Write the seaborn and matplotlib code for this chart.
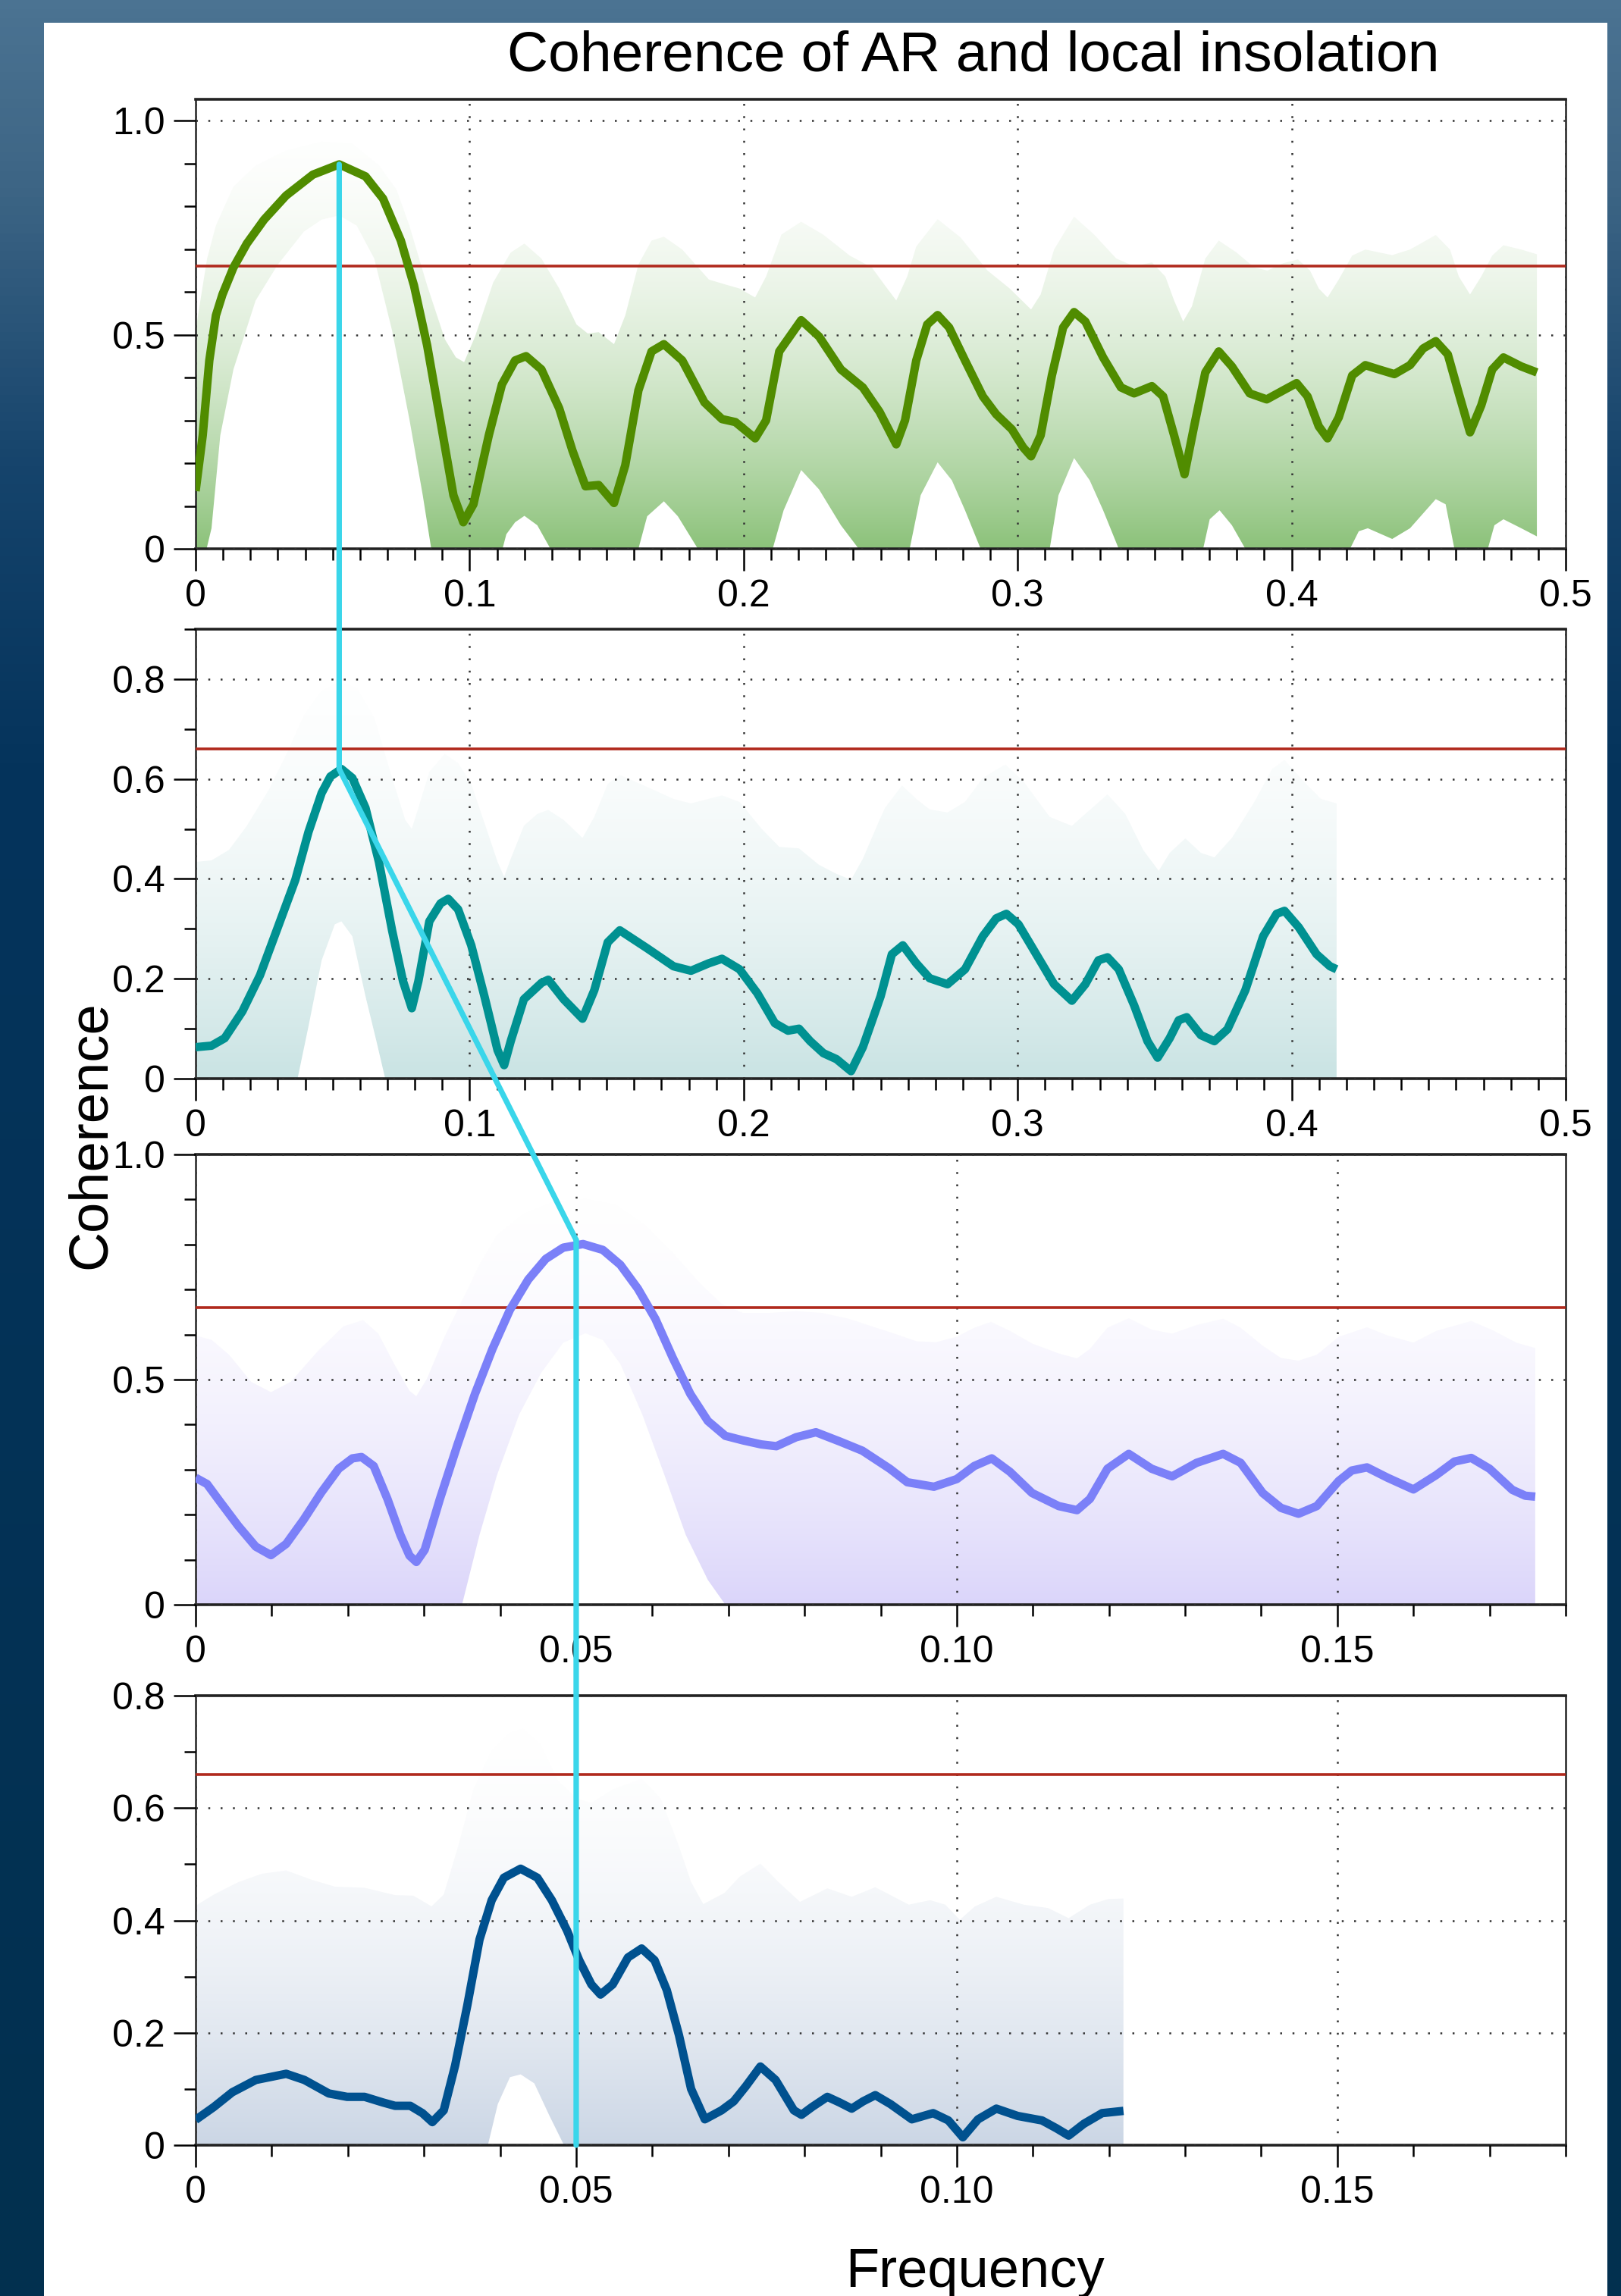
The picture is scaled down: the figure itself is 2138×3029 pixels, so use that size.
import numpy as np
import matplotlib
matplotlib.use("Agg")
import matplotlib.pyplot as plt
import matplotlib.colors as mcolors
import seaborn as sns
from matplotlib.patches import Polygon, Rectangle, ConnectionPatch
from matplotlib.ticker import MultipleLocator

# ---------------- data ----------------
# panel 1
p1_freq = [0.0, 0.0026, 0.005, 0.0074, 0.0098, 0.0138, 0.0187, 0.025, 0.033, 0.0428, 0.0524, 0.062, 0.0684,
           0.0749, 0.0797, 0.0845, 0.0893, 0.0941, 0.0977, 0.1014, 0.107, 0.1118, 0.1166, 0.1206, 0.1262, 0.1327,
           0.1375, 0.1423, 0.1471, 0.1527, 0.1568, 0.1616, 0.1664, 0.1709, 0.1776, 0.1857, 0.1921, 0.197, 0.2042,
           0.2082, 0.213, 0.221, 0.2275, 0.2355, 0.2435, 0.2496, 0.2557, 0.2589, 0.263, 0.267, 0.2708, 0.275,
           0.2808, 0.2873, 0.2922, 0.2979, 0.302, 0.3049, 0.3084, 0.3125, 0.3166, 0.3206, 0.3247, 0.3312, 0.3377,
           0.3425, 0.349, 0.3531, 0.3571, 0.3609, 0.3644, 0.3685, 0.3734, 0.3782, 0.3847, 0.3909, 0.3969, 0.4018,
           0.4058, 0.4099, 0.4131, 0.4172, 0.4221, 0.4269, 0.4318, 0.4375, 0.4432, 0.448, 0.4526, 0.457, 0.461,
           0.4651, 0.4692, 0.4732, 0.4773, 0.4838, 0.4895]
p1_coh = [0.135, 0.265, 0.44, 0.545, 0.594, 0.657, 0.713, 0.769, 0.825, 0.874, 0.898, 0.870, 0.818,
          0.72, 0.615, 0.475, 0.30, 0.125, 0.062, 0.104, 0.265, 0.384, 0.44, 0.45, 0.419, 0.328,
          0.23, 0.146, 0.149, 0.107, 0.195, 0.37, 0.461, 0.478, 0.44, 0.342, 0.303, 0.296, 0.258,
          0.30, 0.461, 0.534, 0.496, 0.419, 0.377, 0.32, 0.244, 0.30, 0.44, 0.524, 0.546, 0.517,
          0.44, 0.356, 0.314, 0.279, 0.237, 0.216, 0.265, 0.405, 0.517, 0.553, 0.531, 0.447, 0.377,
          0.363, 0.38, 0.356, 0.265, 0.174, 0.286, 0.412, 0.461, 0.426, 0.363, 0.349, 0.37, 0.387,
          0.356, 0.286, 0.258, 0.307, 0.405, 0.429, 0.419, 0.408, 0.429, 0.468, 0.485, 0.454, 0.363,
          0.272, 0.335, 0.419, 0.447, 0.426, 0.412]
p1_up_f = [0.0, 0.0042, 0.0074, 0.0138, 0.0219, 0.033, 0.046, 0.057, 0.067, 0.0733, 0.078, 0.0845, 0.091, 0.095,
           0.098, 0.102, 0.1086, 0.115, 0.12, 0.1262, 0.1327, 0.139, 0.1431, 0.1471, 0.1527, 0.1568, 0.1616,
           0.1664, 0.1709, 0.1776, 0.1873, 0.193, 0.1985, 0.2042, 0.2082, 0.2138, 0.221, 0.229, 0.2387, 0.2468,
           0.2516, 0.2557, 0.2597, 0.263, 0.2708, 0.2792, 0.289, 0.2971, 0.3049, 0.3084, 0.3133, 0.3206, 0.3279,
           0.336, 0.3425, 0.349, 0.3539, 0.3571, 0.3604, 0.3636, 0.3685, 0.3734, 0.3799, 0.3864, 0.3912, 0.3969,
           0.4023, 0.4067, 0.4099, 0.4131, 0.4172, 0.4221, 0.4269, 0.4367, 0.4432, 0.4526, 0.4578, 0.461, 0.4651,
           0.4692, 0.4732, 0.4773, 0.4838, 0.4895]
p1_up = [0.51, 0.678, 0.755, 0.846, 0.895, 0.93, 0.951, 0.947, 0.895, 0.839, 0.755, 0.615, 0.489, 0.447,
         0.436, 0.496, 0.622, 0.692, 0.713, 0.678, 0.608, 0.524, 0.503, 0.506, 0.478, 0.545, 0.664,
         0.72, 0.729, 0.699, 0.629, 0.618, 0.608, 0.587, 0.636, 0.734, 0.764, 0.734, 0.685, 0.657,
         0.615, 0.58, 0.636, 0.706, 0.77, 0.727, 0.65, 0.608, 0.559, 0.594, 0.699, 0.776, 0.734,
         0.678, 0.66, 0.669, 0.636, 0.58, 0.531, 0.566, 0.678, 0.72, 0.692, 0.657, 0.65, 0.667,
         0.676, 0.65, 0.608, 0.587, 0.629, 0.685, 0.699, 0.686, 0.699, 0.733, 0.699, 0.636, 0.594,
         0.636, 0.685, 0.709, 0.699, 0.688]
p1_lo_f = [0.0, 0.004, 0.0058, 0.009, 0.0138, 0.0219, 0.03, 0.0395, 0.046, 0.0524, 0.0588, 0.0652, 0.0717, 0.0781,
           0.0829, 0.086, 0.112, 0.1134, 0.1166, 0.12, 0.1247, 0.1295, 0.1616, 0.1648, 0.1709, 0.176, 0.1833,
           0.2106, 0.2146, 0.221, 0.2275, 0.2355, 0.242, 0.2606, 0.2646, 0.2708, 0.276, 0.2808, 0.2865, 0.3117,
           0.3149, 0.3206, 0.3263, 0.3312, 0.3369, 0.3677, 0.3701, 0.3737, 0.3782, 0.3831, 0.4213, 0.4245, 0.4278,
           0.4367, 0.4432, 0.4526, 0.4562, 0.4594, 0.4716, 0.474, 0.4773, 0.4838, 0.4895]
p1_lo = [0, 0, 0.048, 0.265, 0.419, 0.58, 0.664, 0.741, 0.769, 0.779, 0.755, 0.678, 0.51, 0.30,
         0.125, 0, 0, 0.034, 0.062, 0.077, 0.055, 0, 0, 0.076, 0.111, 0.076, 0,
         0, 0.09, 0.184, 0.139, 0.055, 0, 0, 0.125, 0.202, 0.16, 0.09, 0, 0,
         0.125, 0.212, 0.16, 0.09, 0, 0, 0.069, 0.09, 0.055, 0, 0, 0.041, 0.048,
         0.023, 0.048, 0.116, 0.104, 0, 0, 0.055, 0.069, 0.048, 0.029]

# panel 2
p2_freq = [0.0, 0.0058, 0.0106, 0.0171, 0.0235, 0.03, 0.0364, 0.0412, 0.046, 0.0492, 0.0532, 0.0572, 0.062,
           0.0669, 0.0717, 0.0757, 0.0789, 0.0813, 0.0853, 0.0894, 0.0922, 0.0958, 0.1006, 0.1054, 0.1102,
           0.1126, 0.115, 0.1198, 0.1263, 0.1287, 0.1343, 0.1412, 0.1455, 0.1504, 0.1548, 0.1648, 0.1744,
           0.1808, 0.1873, 0.1921, 0.1985, 0.205, 0.2114, 0.2162, 0.2202, 0.2243, 0.2291, 0.2339, 0.2392,
           0.2435, 0.25, 0.2541, 0.2581, 0.263, 0.2679, 0.2744, 0.2808, 0.2873, 0.2922, 0.2959, 0.3003,
           0.3068, 0.3133, 0.3198, 0.3247, 0.3295, 0.3328, 0.3369, 0.3425, 0.3474, 0.3511, 0.3555, 0.3588,
           0.3617, 0.3669, 0.3718, 0.3766, 0.3831, 0.3896, 0.3945, 0.3974, 0.4026, 0.4091, 0.414, 0.4164]
p2_coh = [0.063, 0.066, 0.081, 0.135, 0.207, 0.303, 0.398, 0.494, 0.572, 0.605, 0.62, 0.602, 0.542,
          0.434, 0.297, 0.195, 0.141, 0.195, 0.315, 0.351, 0.36, 0.339, 0.267, 0.165, 0.057,
          0.027, 0.075, 0.159, 0.192, 0.198, 0.159, 0.12, 0.177, 0.273, 0.297, 0.261, 0.225,
          0.216, 0.231, 0.24, 0.219, 0.171, 0.111, 0.096, 0.1, 0.075, 0.051, 0.039, 0.015,
          0.063, 0.165, 0.249, 0.267, 0.231, 0.201, 0.189, 0.219, 0.285, 0.321, 0.33, 0.309,
          0.249, 0.189, 0.156, 0.189, 0.237, 0.243, 0.219, 0.147, 0.075, 0.042, 0.081, 0.117,
          0.123, 0.087, 0.075, 0.099, 0.177, 0.285, 0.33, 0.336, 0.303, 0.249, 0.225, 0.219]
p2_up_f = [0.0, 0.0058, 0.0122, 0.0187, 0.0267, 0.0332, 0.0396, 0.046, 0.0524, 0.0588, 0.0652, 0.0717, 0.0765,
           0.0789, 0.0813, 0.0853, 0.0909, 0.0958, 0.1006, 0.1054, 0.1102, 0.1126, 0.115, 0.1198, 0.1247,
           0.1287, 0.1343, 0.1412, 0.1455, 0.1504, 0.1548, 0.1648, 0.1744, 0.1808, 0.1921, 0.1985, 0.2066,
           0.213, 0.2202, 0.2275, 0.2339, 0.2392, 0.2435, 0.2496, 0.2516, 0.2578, 0.263, 0.2679, 0.2744,
           0.2808, 0.2873, 0.2955, 0.302, 0.3117, 0.3198, 0.3247, 0.3328, 0.3393, 0.3458, 0.3515, 0.3555,
           0.3612, 0.3669, 0.3718, 0.3782, 0.3864, 0.3929, 0.3974, 0.4042, 0.4107, 0.4164]
p2_up = [0.434, 0.437, 0.458, 0.506, 0.578, 0.65, 0.728, 0.776, 0.794, 0.782, 0.722, 0.602, 0.518,
         0.5, 0.542, 0.614, 0.65, 0.632, 0.59, 0.512, 0.434, 0.404, 0.44, 0.506, 0.53,
         0.538, 0.518, 0.482, 0.524, 0.59, 0.608, 0.584, 0.56, 0.551, 0.567, 0.554, 0.5,
         0.464, 0.461, 0.428, 0.41, 0.398, 0.44, 0.518, 0.542, 0.587, 0.56, 0.539, 0.533,
         0.554, 0.602, 0.629, 0.596, 0.524, 0.506, 0.53, 0.569, 0.53, 0.458, 0.416, 0.452,
         0.481, 0.452, 0.443, 0.482, 0.554, 0.62, 0.638, 0.596, 0.56, 0.551]
p2_lo_f = [0.0, 0.0372, 0.0412, 0.046, 0.0508, 0.0532, 0.0572, 0.062, 0.066, 0.0692, 0.4164]
p2_lo = [0, 0, 0.105, 0.237, 0.309, 0.315, 0.285, 0.165, 0.075, 0, 0]

# panel 3
p3_freq = [0.0, 0.0015, 0.0032, 0.0056, 0.0079, 0.0099, 0.0119, 0.0142, 0.0165, 0.0188, 0.0206, 0.0218, 0.0234,
           0.0252, 0.0269, 0.0281, 0.029, 0.0301, 0.0321, 0.0344, 0.0367, 0.039, 0.0413, 0.0437, 0.046, 0.0483,
           0.0509, 0.0535, 0.0558, 0.0581, 0.0604, 0.0627, 0.065, 0.0673, 0.0696, 0.0719, 0.0743, 0.0763,
           0.0789, 0.0815, 0.0847, 0.0876, 0.0912, 0.0935, 0.097, 0.1, 0.1023, 0.1046, 0.107, 0.1099, 0.1134,
           0.1158, 0.1175, 0.1198, 0.1226, 0.1256, 0.1283, 0.1315, 0.135, 0.1373, 0.1402, 0.1426, 0.1449,
           0.1473, 0.1502, 0.1519, 0.1539, 0.1566, 0.16, 0.163, 0.1654, 0.1676, 0.17, 0.173, 0.1747, 0.176]
p3_coh = [0.282, 0.268, 0.229, 0.175, 0.129, 0.11, 0.135, 0.189, 0.249, 0.302, 0.325, 0.328, 0.308,
          0.235, 0.155, 0.109, 0.095, 0.122, 0.235, 0.355, 0.468, 0.568, 0.655, 0.722, 0.768, 0.793,
          0.801, 0.788, 0.755, 0.702, 0.635, 0.548, 0.468, 0.408, 0.375, 0.365, 0.356, 0.352,
          0.372, 0.383, 0.362, 0.342, 0.302, 0.272, 0.262, 0.279, 0.308, 0.325, 0.295, 0.248, 0.219,
          0.21, 0.235, 0.302, 0.335, 0.302, 0.285, 0.315, 0.335, 0.315, 0.248, 0.215, 0.202,
          0.219, 0.275, 0.298, 0.305, 0.282, 0.256, 0.288, 0.318, 0.326, 0.302, 0.255, 0.242, 0.24]
p3_up_f = [0.0, 0.0021, 0.0044, 0.0073, 0.0099, 0.0125, 0.016, 0.0194, 0.022, 0.024, 0.0263, 0.0281, 0.029,
           0.0304, 0.0327, 0.035, 0.0373, 0.0396, 0.0431, 0.0471, 0.0512, 0.0552, 0.0592, 0.0627, 0.0662,
           0.0691, 0.0719, 0.0754, 0.0789, 0.0823, 0.0858, 0.0918, 0.0947, 0.0973, 0.1, 0.1023, 0.1045,
           0.107, 0.1099, 0.1134, 0.1158, 0.1175, 0.1198, 0.1226, 0.1256, 0.1283, 0.1315, 0.135, 0.1373,
           0.1402, 0.1426, 0.1449, 0.1473, 0.1502, 0.1539, 0.1566, 0.16, 0.163, 0.1676, 0.1706, 0.1735, 0.176]
p3_up = [0.598, 0.588, 0.555, 0.495, 0.472, 0.495, 0.562, 0.618, 0.632, 0.602, 0.528, 0.475, 0.463,
         0.502, 0.595, 0.675, 0.755, 0.821, 0.868, 0.895, 0.901, 0.888, 0.841, 0.781, 0.715,
         0.668, 0.648, 0.648, 0.652, 0.648, 0.635, 0.602, 0.585, 0.583, 0.595, 0.615, 0.628,
         0.608, 0.58, 0.558, 0.547, 0.568, 0.615, 0.636, 0.611, 0.602, 0.621, 0.635, 0.615,
         0.575, 0.548, 0.542, 0.555, 0.595, 0.616, 0.598, 0.582, 0.608, 0.63, 0.608, 0.582, 0.57]
p3_lo_f = [0.0, 0.035, 0.0373, 0.0396, 0.0425, 0.0454, 0.0483, 0.0512, 0.0535, 0.0558, 0.0587, 0.0616, 0.0644,
           0.0673, 0.0696, 0.176]
p3_lo = [0, 0, 0.155, 0.288, 0.422, 0.515, 0.582, 0.603, 0.588, 0.535, 0.422, 0.288, 0.155, 0.055, 0, 0]

# panel 4
p4_freq = [0.0, 0.0024, 0.0048, 0.0079, 0.0119, 0.0143, 0.0175, 0.0199, 0.0222, 0.0246, 0.0262, 0.0282, 0.0298,
           0.0311, 0.0326, 0.0341, 0.0357, 0.0373, 0.0389, 0.0405, 0.0427, 0.0449, 0.0468, 0.0488, 0.0504,
           0.052, 0.0532, 0.0548, 0.0568, 0.0586, 0.0603, 0.0619, 0.0635, 0.0651, 0.0669, 0.0691, 0.0707,
           0.0723, 0.0742, 0.0762, 0.0786, 0.0796, 0.081, 0.083, 0.0846, 0.0862, 0.0877, 0.0893, 0.0913,
           0.0941, 0.0969, 0.0989, 0.1008, 0.1028, 0.1052, 0.108, 0.1112, 0.1131, 0.1147, 0.1167, 0.1191, 0.1219]
p4_coh = [0.045, 0.068, 0.094, 0.116, 0.127, 0.116, 0.092, 0.086, 0.086, 0.076, 0.07, 0.07, 0.057,
          0.041, 0.062, 0.142, 0.249, 0.366, 0.436, 0.476, 0.492, 0.476, 0.436, 0.382, 0.329,
          0.286, 0.268, 0.286, 0.334, 0.35, 0.329, 0.276, 0.196, 0.1, 0.046, 0.062, 0.078,
          0.105, 0.14, 0.116, 0.062, 0.054, 0.068, 0.086, 0.076, 0.065, 0.078, 0.089, 0.073,
          0.046, 0.057, 0.044, 0.014, 0.046, 0.065, 0.052, 0.044, 0.03, 0.017, 0.038, 0.057, 0.061]
p4_up_f = [0.0, 0.0024, 0.0056, 0.0087, 0.0119, 0.0151, 0.0183, 0.0222, 0.0262, 0.0286, 0.031, 0.0326, 0.0345,
           0.0365, 0.0389, 0.0413, 0.043, 0.0453, 0.0476, 0.05, 0.052, 0.0548, 0.0586, 0.0611, 0.0635,
           0.0651, 0.0667, 0.0695, 0.0715, 0.0742, 0.0766, 0.0794, 0.083, 0.0862, 0.0893, 0.0937, 0.0965,
           0.0985, 0.1004, 0.1024, 0.1052, 0.1088, 0.112, 0.1147, 0.1175, 0.1199, 0.1219]
p4_up = [0.426, 0.446, 0.468, 0.483, 0.489, 0.473, 0.46, 0.458, 0.445, 0.444, 0.425, 0.446, 0.532,
         0.633, 0.702, 0.734, 0.741, 0.713, 0.649, 0.617, 0.609, 0.633, 0.652, 0.617, 0.532,
         0.468, 0.429, 0.449, 0.478, 0.501, 0.468, 0.433, 0.457, 0.442, 0.459, 0.428, 0.436,
         0.428, 0.401, 0.425, 0.442, 0.428, 0.422, 0.404, 0.428, 0.438, 0.439]
p4_lo_f = [0.0, 0.0384, 0.0397, 0.0413, 0.0427, 0.0445, 0.0465, 0.0484, 0.1219]
p4_lo = [0, 0, 0.073, 0.121, 0.126, 0.11, 0.052, 0, 0]

# significance level and the cyan link between the peaks
sig_level = 0.66
link_freq = [0.0524, 0.0524, 0.05, 0.05]
link_coh = [0.898, 0.62, 0.81, 0.0]

xt_wide = [0, 0.1, 0.2, 0.3, 0.4, 0.5]
xt_wide_lab = ['0', '0.1', '0.2', '0.3', '0.4', '0.5']
xt_narrow = [0, 0.05, 0.10, 0.15]
xt_narrow_lab = ['0', '0.05', '0.10', '0.15']
yt_half = [0, 0.5, 1.0]
yt_half_lab = ['0', '0.5', '1.0']
yt_fifth = [0, 0.2, 0.4, 0.6, 0.8]
yt_fifth_lab = ['0', '0.2', '0.4', '0.6', '0.8']

# ---------------- figure ----------------
sns.set_style("ticks")
plt.rcParams['font.family'] = ['Liberation Sans', 'DejaVu Sans']

W, H, DPI = 2138, 3029, 200
fig = plt.figure(figsize=(W / DPI, H / DPI), dpi=DPI)

# blue backdrop + white sheet
bg = fig.add_axes([0, 0, 1, 1], zorder=-10)
bg_cmap = mcolors.LinearSegmentedColormap.from_list(
    'bg', [(0, '#4b7392'), (0.08, '#3d6585'), (0.2, '#16446c'), (0.33, '#05345c'), (1, '#02304f')])
bg.imshow(np.linspace(0, 1, 512)[:, None], cmap=bg_cmap, aspect='auto', extent=[0, 1, 0, 1])
bg.set_xlim(0, 1)
bg.set_ylim(0, 1)
bg.axis('off')
fig.add_artist(Rectangle((58 / W, 0), (2120 - 58) / W, 1 - 30 / H, transform=fig.transFigure,
                         facecolor='white', edgecolor='none', zorder=-5))

panels = [
    dict(top=131, bot=724, f=p1_freq, c=p1_coh, uf=p1_up_f, u=p1_up, lf=p1_lo_f, l=p1_lo,
         color='#508c00', fill='#8cc27a', xmax=0.5, ymax=1.05, xt=xt_wide, xl=xt_wide_lab,
         yt=yt_half, yl=yt_half_lab),
    dict(top=830, bot=1423, f=p2_freq, c=p2_coh, uf=p2_up_f, u=p2_up, lf=p2_lo_f, l=p2_lo,
         color='#009191', fill='#c9e3e3', xmax=0.5, ymax=0.9, xt=xt_wide, xl=xt_wide_lab,
         yt=yt_fifth, yl=yt_fifth_lab),
    dict(top=1523, bot=2117, f=p3_freq, c=p3_coh, uf=p3_up_f, u=p3_up, lf=p3_lo_f, l=p3_lo,
         color='#7b80f8', fill='#dbd5fa', xmax=0.18, ymax=1.0, xt=xt_narrow, xl=xt_narrow_lab,
         yt=yt_half, yl=yt_half_lab),
    dict(top=2237, bot=2830, f=p4_freq, c=p4_coh, uf=p4_up_f, u=p4_up, lf=p4_lo_f, l=p4_lo,
         color='#00518f', fill='#cbd6e5', xmax=0.18, ymax=0.8, xt=xt_narrow, xl=xt_narrow_lab,
         yt=yt_fifth, yl=yt_fifth_lab),
]

axes = []
for p in panels:
    ax = fig.add_axes([258 / W, 1 - p['bot'] / H, (2065 - 258) / W, (p['bot'] - p['top']) / H])
    ax.set_facecolor('white')
    ax.set_xlim(0, p['xmax'])
    ax.set_ylim(0, p['ymax'])

    # confidence band with vertical gradient
    verts = list(zip(p['uf'], p['u'])) + list(zip(p['lf'][::-1], p['l'][::-1]))
    band = Polygon(verts, closed=True, facecolor='none', edgecolor='none')
    ax.add_patch(band)
    t = np.linspace(0, 1, 300)[:, None]
    base = np.array(mcolors.to_rgb(p['fill']))
    w = (1 - t) ** 2.0
    img = 1 - w[..., None] * (1 - base[None, None, :])
    im = ax.imshow(img, extent=[0, p['xmax'], 0, p['ymax']], origin='lower', aspect='auto',
                   zorder=1, interpolation='bilinear')
    im.set_clip_path(band)

    ax.axhline(sig_level, color='#b0291c', lw=1.3, zorder=2.7)
    sns.lineplot(x=p['f'], y=p['c'], ax=ax, color=p['color'], linewidth=4.0, zorder=4,
                 sort=False, estimator=None)
    for ln in ax.lines:
        ln.set_solid_joinstyle('round')
        ln.set_solid_capstyle('butt')

    ax.set_xticks(p['xt'])
    ax.set_xticklabels(p['xl'])
    ax.set_yticks(p['yt'])
    ax.set_yticklabels(p['yl'])
    ax.xaxis.set_minor_locator(MultipleLocator(0.01))
    ax.yaxis.set_minor_locator(MultipleLocator(0.1))
    ax.set_xlim(0, p['xmax'])
    ax.set_ylim(0, p['ymax'])
    ax.tick_params(which='major', direction='out', length=10.5, width=0.9, labelsize=18,
                   color='black', labelcolor='black')
    ax.tick_params(which='minor', direction='out', length=5.4, width=0.9, color='black')
    ax.tick_params(axis='y', pad=4)
    ax.tick_params(axis='x', pad=4)
    ax.set_axisbelow(False)
    ax.grid(True, which='major', color='#333333', lw=0.9, linestyle=(0, (1, 5.5)))
    for side in ['top', 'bottom']:
        ax.spines[side].set_linewidth(1.3)
        ax.spines[side].set_color('#222222')
    for side in ['left', 'right']:
        ax.spines[side].set_linewidth(0.9)
        ax.spines[side].set_color('#222222')
    ax.set_xlabel('')
    ax.set_ylabel('')
    axes.append(ax)

# cyan link between the coherence peaks
for i in range(len(link_freq) - 1):
    con = ConnectionPatch(xyA=(link_freq[i], link_coh[i]), coordsA=axes[i].transData,
                          xyB=(link_freq[i + 1], link_coh[i + 1]), coordsB=axes[i + 1].transData,
                          color='#3ad6ea', lw=2.6, zorder=20)
    con.set_capstyle('round')
    fig.add_artist(con)

fig.text(1284 / W, 1 - 94 / H, 'Coherence of AR and local insolation', ha='center', va='baseline',
         fontsize=27, color='black')
fig.text(1286 / W, 1 - 3017 / H, 'Frequency', ha='center', va='baseline', fontsize=26, color='black')
fig.text(139 / W, 1 - 1497 / H, 'Coherence', ha='center', va='baseline', rotation=90,
         rotation_mode='anchor', fontsize=26, color='black')

fig.savefig('out.png', dpi=DPI)
